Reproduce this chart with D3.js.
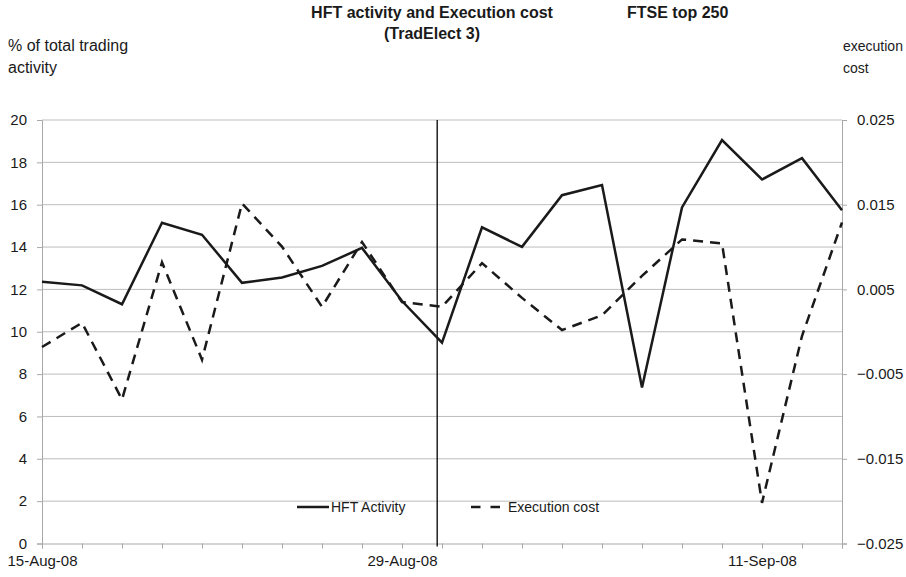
<!DOCTYPE html>
<html>
<head>
<meta charset="utf-8">
<script src="https://cdn.jsdelivr.net/npm/d3@7"></script>
<style>
  body { margin: 0; background: #fff; }
  svg text { font-family: "Liberation Sans", Arial, sans-serif; fill: #1a1a1a; }
</style>
</head>
<body>
<div id="chart"></div>
<script>
// trading days 15-Aug-08 .. 15-Sep-08
var days = ["15-Aug-08", "18-Aug-08", "19-Aug-08", "20-Aug-08", "21-Aug-08", "22-Aug-08",
  "26-Aug-08", "27-Aug-08", "28-Aug-08", "29-Aug-08", "1-Sep-08", "2-Sep-08", "3-Sep-08",
  "4-Sep-08", "5-Sep-08", "8-Sep-08", "9-Sep-08", "10-Sep-08", "11-Sep-08", "12-Sep-08", "15-Sep-08"];

// % of total trading activity (left axis)
var hftActivity = [12.36, 12.19, 11.30, 15.15, 14.58, 12.31, 12.56, 13.11, 13.96, 11.45, 9.49,
  14.93, 14.01, 16.45, 16.93, 7.37, 15.87, 19.05, 17.19, 18.20, 15.74];

// execution cost (right axis)
var executionCost = [-0.0018, 0.00105, -0.0080, 0.0082, -0.0033, 0.01515, 0.01005, 0.00295,
  0.0106, 0.0035, 0.00295, 0.0081, 0.0040, 0.0002, 0.00195, 0.0066, 0.0109, 0.01043,
  -0.0202, -0.0005, 0.0129];

var leftTicks = [0, 2, 4, 6, 8, 10, 12, 14, 16, 18, 20];
var rightTicks = [-0.025, -0.015, -0.005, 0.005, 0.015, 0.025];
var labelEvery = 9;          // Excel shows every 9th category label
var tradElectLaunch = 9.88;  // TradElect 3 go-live marker, between 29-Aug and 1-Sep

var W = 906, H = 577;
var margin = { top: 120, right: 64, bottom: 33.5, left: 42 },
    width = W - margin.left - margin.right,
    height = H - margin.top - margin.bottom;

var svg = d3.select("#chart")
  .append("svg")
  .attr("width", W)
  .attr("height", H);

var g = svg.append("g")
  .attr("transform", "translate(" + margin.left + "," + margin.top + ")");

var x = d3.scaleLinear()
  .domain([0, days.length - 1])
  .range([0, width]);

var yLeft = d3.scaleLinear()
  .domain([0, 20])
  .range([height, 0]);

var yRight = d3.scaleLinear()
  .domain([-0.025, 0.025])
  .range([height, 0]);

// gridlines
g.append("g")
  .selectAll("line")
  .data(leftTicks.slice(1))
  .enter()
  .append("line")
  .attr("x1", 0)
  .attr("x2", width)
  .attr("y1", function(d) { return yLeft(d); })
  .attr("y2", function(d) { return yLeft(d); })
  .attr("stroke", "#bdbdbd")
  .attr("stroke-width", 1);

// left axis
var leftAxis = g.append("g")
  .call(d3.axisLeft(yLeft).tickValues(leftTicks).tickSize(5).tickPadding(10).tickFormat(d3.format("d")));
leftAxis.selectAll("text").style("font-size", "15px");

// right axis
var rightAxis = g.append("g")
  .attr("transform", "translate(" + width + ",0)")
  .call(d3.axisRight(yRight).tickValues(rightTicks).tickSize(5).tickPadding(10).tickFormat(d3.format(".3f")));
rightAxis.selectAll("text").style("font-size", "15px");

// bottom axis: tick at every category, label every 9th
var bottomAxis = g.append("g")
  .attr("transform", "translate(0," + height + ")")
  .call(d3.axisBottom(x)
    .tickValues(d3.range(days.length))
    .tickSize(5)
    .tickPadding(7)
    .tickFormat(function(i) { return i % labelEvery === 0 ? days[i] : ""; }));
bottomAxis.selectAll("text").style("font-size", "15px");

[leftAxis, rightAxis, bottomAxis].forEach(function(a) {
  a.select(".domain").attr("stroke", "#a8a8a8").attr("stroke-width", 1);
  a.selectAll(".tick line").attr("stroke", "#a8a8a8");
});

// TradElect 3 marker
g.append("line")
  .attr("x1", x(tradElectLaunch))
  .attr("x2", x(tradElectLaunch))
  .attr("y1", yLeft(20))
  .attr("y2", height + 3)
  .attr("stroke", "#111")
  .attr("stroke-width", 1.4);

// lines
var hftLine = d3.line()
  .x(function(d, i) { return x(i); })
  .y(function(d) { return yLeft(d); });

var costLine = d3.line()
  .x(function(d, i) { return x(i); })
  .y(function(d) { return yRight(d); });

g.append("path")
  .datum(executionCost)
  .attr("d", costLine)
  .attr("fill", "none")
  .attr("stroke", "#1a1a1a")
  .attr("stroke-width", 2.5)
  .attr("stroke-dasharray", "10,7");

g.append("path")
  .datum(hftActivity)
  .attr("d", hftLine)
  .attr("fill", "none")
  .attr("stroke", "#1a1a1a")
  .attr("stroke-width", 2.5)
  .attr("stroke-linejoin", "miter");

// legend
var legend = svg.append("g");
legend.append("line")
  .attr("x1", 297).attr("x2", 329)
  .attr("y1", 507).attr("y2", 507)
  .attr("stroke", "#1a1a1a").attr("stroke-width", 2.5);
legend.append("text")
  .attr("x", 331).attr("y", 512)
  .style("font-size", "14px")
  .text("HFT Activity");
legend.append("line")
  .attr("x1", 471).attr("x2", 500)
  .attr("y1", 507).attr("y2", 507)
  .attr("stroke", "#1a1a1a").attr("stroke-width", 2.5)
  .attr("stroke-dasharray", "9.5,10");
legend.append("text")
  .attr("x", 508).attr("y", 512)
  .style("font-size", "14px")
  .text("Execution cost");

// titles
svg.append("text")
  .attr("x", 432).attr("y", 18)
  .attr("text-anchor", "middle")
  .style("font-size", "16px")
  .style("font-weight", "bold")
  .text("HFT activity and Execution cost");
svg.append("text")
  .attr("x", 432).attr("y", 39)
  .attr("text-anchor", "middle")
  .style("font-size", "16px")
  .style("font-weight", "bold")
  .text("(TradElect 3)");
svg.append("text")
  .attr("x", 627).attr("y", 18)
  .style("font-size", "16px")
  .style("font-weight", "bold")
  .text("FTSE top 250");

// axis titles
svg.append("text").attr("x", 8).attr("y", 51).style("font-size", "16px").text("% of total trading");
svg.append("text").attr("x", 8).attr("y", 73).style("font-size", "16px").text("activity");
svg.append("text").attr("x", 843).attr("y", 51).style("font-size", "14px").text("execution");
svg.append("text").attr("x", 843).attr("y", 73).style("font-size", "14px").text("cost");
</script>
</body>
</html>
